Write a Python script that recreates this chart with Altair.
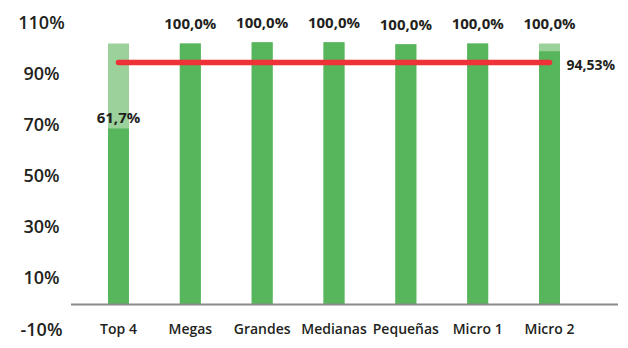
import altair as alt
import pandas as pd

categories = ["Top 4", "Megas", "Grandes", "Medianas", "Pequeñas", "Micro 1", "Micro 2"]
bar_total = [102.0, 102.0, 102.5, 102.5, 101.7, 102.0, 102.0]
bar_solid = [68.8, 102.0, 102.5, 102.5, 101.7, 102.0, 99.0]
value_labels = ["61,7%", "100,0%", "100,0%", "100,0%", "100,0%", "100,0%", "100,0%"]
average_value = 94.53
average_label = "94,53%"
y_ticks = [-10, 10, 30, 50, 70, 90, 110]

FONT = "Open Sans"
TXT = "#231F20"
DARK = "#57B55B"
LIGHT = "#9BD19A"
RED = "#EE3237"

df = pd.DataFrame({"cat": categories, "total": bar_total, "solid": bar_solid, "lab": value_labels})
avg_df = pd.DataFrame({"cat": [categories[0], categories[-1]], "v": [average_value, average_value]})
avg_lab = pd.DataFrame({"cat": [categories[-1]], "v": [average_value], "lab": [average_label]})
zero_df = pd.DataFrame({"v": [0]})

W, H = 547, 307
xs = alt.Scale(domain=categories, range=[0, 526], paddingOuter=0.161, paddingInner=0)
ys = alt.Scale(domain=[-10, 110], nice=False, zero=False)
X = alt.X("cat:N", sort=categories, scale=xs, axis=None)

base = alt.Chart(df)

light = base.mark_bar(size=21, color=LIGHT).encode(
    x=X,
    y=alt.Y("total:Q", scale=ys, title=None,
            axis=alt.Axis(values=y_ticks, labelExpr="datum.value + '%'", ticks=False, tickSize=0,
                          domain=False, grid=False, labelAlign="center", labelPadding=30,
                          labelFont=FONT, labelFontSize=18, labelFontWeight=600, labelColor=TXT,
                          labelBaseline="middle", labelBound=False, labelOverlap=False)),
    y2=alt.datum(0),
)
dark = base.mark_bar(size=21, color=DARK).encode(
    x=X, y=alt.Y("solid:Q", scale=ys), y2=alt.datum(0)
)
baseline = alt.Chart(zero_df).mark_rule(color="#8A8A8A", strokeWidth=2).encode(
    y=alt.Y("v:Q", scale=ys), x=alt.value(0), x2=alt.value(W)
)
avg_line = alt.Chart(avg_df).mark_line(color=RED, strokeWidth=5.5, strokeCap="round").encode(
    x=X, y=alt.Y("v:Q", scale=ys)
)
top_lab = base.transform_filter("datum.cat == 'Top 4'").mark_text(
    font=FONT, fontSize=15, fontWeight="bold", color=TXT, baseline="middle", dy=-10
).encode(x=X, y=alt.Y("solid:Q", scale=ys), text="lab:N")
other_lab = base.transform_filter("datum.cat != 'Top 4'").mark_text(
    font=FONT, fontSize=15, fontWeight="bold", color=TXT, baseline="middle", dy=-19
).encode(x=X, y=alt.Y("total:Q", scale=ys), text="lab:N")
avg_text = alt.Chart(avg_lab).mark_text(
    font=FONT, fontSize=14, fontWeight="bold", color=TXT, align="left", baseline="middle", dx=17, dy=3
).encode(x=X, y=alt.Y("v:Q", scale=ys), text="lab:N")
cat_text = base.mark_text(
    font=FONT, fontSize=14, fontWeight=600, color=TXT, baseline="middle"
).encode(x=X, y=alt.datum(-10), text="cat:N")

chart = alt.layer(
    light, dark, baseline, avg_line, top_lab, other_lab, avg_text, cat_text
).properties(
    width=W, height=H,
    autosize=alt.AutoSizeParams(type="none"),
    padding={"left": 63, "top": 15, "right": 2, "bottom": 10},
    background="white",
).configure_view(stroke=None)

chart.save("out.html", embed_options={"renderer": "svg", "actions": False})
